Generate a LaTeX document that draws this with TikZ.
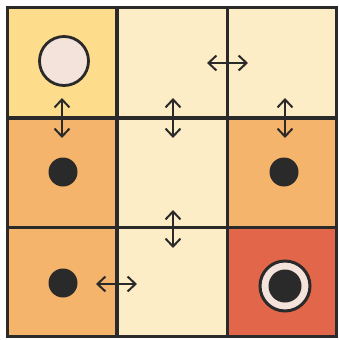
\documentclass[tikz,border=0pt]{standalone}
\usepackage{xcolor}
\definecolor{palstart}{HTML}{FDDC8C}
\definecolor{palwarm}{HTML}{F5B46C}
\definecolor{palcream}{HTML}{FDEDC7}
\definecolor{palgoal}{HTML}{E2674A}
\definecolor{palink}{HTML}{2A2A2A}
\definecolor{palpebble}{HTML}{F3E3DA}
\usepackage{tikz}
\usetikzlibrary{positioning, arrows.meta}

\begin{document}
\begin{tikzpicture}[
  x=1pt, y=-1pt,
  cell/.style={rectangle, minimum size=109.5pt, inner sep=0pt, line width=2.6pt, draw=palink},
  startcell/.style={cell, fill=palstart},
  warmcell/.style={cell, fill=palwarm},
  creamcell/.style={cell, fill=palcream},
  goalcell/.style={cell, fill=palgoal},
  pebble/.style={circle, inner sep=0pt, minimum size=49pt, line width=2.8pt, draw=palink, fill=palpebble},
  dot/.style={circle, inner sep=0pt, minimum size=29pt, fill=palink},
  ring/.style={circle, inner sep=0pt, minimum size=50pt, line width=3pt, draw=palink, fill=palpebble},
  move/.style={{Straight Barb[length=8pt, width=15pt]}-{Straight Barb[length=8pt, width=15pt]}, line width=2pt, draw=palink}
]
\useasboundingbox (0,0) rectangle (338,340);

% grid
\node[startcell] (c00) at (62,62.5) {};
\node[creamcell] (c01) at (172.5,62.5) {};
\node[creamcell] (c02) at (282,62.5) {};
\node[warmcell]  (c10) at (62,173) {};
\node[creamcell] (c11) at (172.5,173) {};
\node[warmcell]  (c12) at (282,173) {};
\node[warmcell]  (c20) at (62,282) {};
\node[creamcell] (c21) at (172.5,282) {};
\node[goalcell]  (c22) at (282,282) {};

% pieces
\node[pebble] (start) at (64,61) {};
\node[dot] (d10) at (63,172) {};
\node[dot] (d12) at (284,172) {};
\node[dot] (d20) at (63,283) {};
\node[ring] (goal) at (285,286) {};
\node[dot, minimum size=33pt] (goalin) at (goal.center) {};

% moves
\coordinate (m1a) at (62,98);   \coordinate (m1b) at (62,138);
\coordinate (m2a) at (173,98);  \coordinate (m2b) at (173,138);
\coordinate (m3a) at (207,63);  \coordinate (m3b) at (248,63);
\coordinate (m4a) at (285,98);  \coordinate (m4b) at (285,138);
\coordinate (m5a) at (173,210); \coordinate (m5b) at (173,248);
\coordinate (m6a) at (96,284);  \coordinate (m6b) at (137,284);
\draw[move] (m1a) -- (m1b);
\draw[move] (m2a) -- (m2b);
\draw[move] (m3a) -- (m3b);
\draw[move] (m4a) -- (m4b);
\draw[move] (m5a) -- (m5b);
\draw[move] (m6a) -- (m6b);
\end{tikzpicture}
\end{document}
